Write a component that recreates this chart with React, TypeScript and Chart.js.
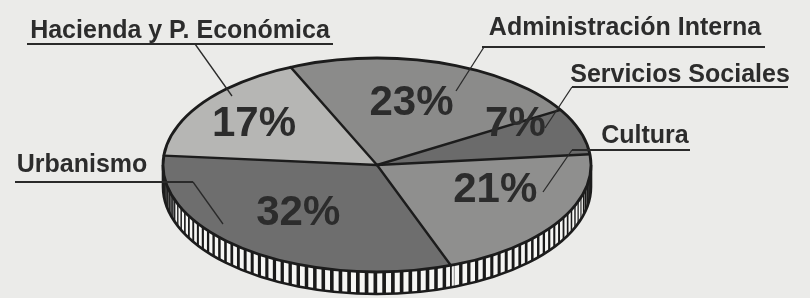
import React, { useEffect, useRef } from "react";
import { Chart, registerables } from "chart.js";

Chart.register(...registerables);

// ---- data ----
const categories = [
  "Hacienda y P. Económica",
  "Administración Interna",
  "Servicios Sociales",
  "Cultura",
  "Urbanismo",
];
const shares = [17, 23, 7, 21, 32];
const percentLabels = ["17%", "23%", "7%", "21%", "32%"];

// ---- styles / layout ----
const sliceColors = ["#b6b6b4", "#8b8b8a", "#6b6b6b", "#8f8f8e", "#6e6e6e"];
const BG = "#ebebe9";
const OUTLINE = "#1c1c1c";
const TEXT = "#2c2c2c";
const RIM_LIGHT = "#f6f6f4";
const RIM_DARK = "#1a1a1a";
const GEO = { cx: 377, cy: 165, rx: 214, ry: 107, depth: 22 };
// per-slice label placement: radius fraction and angle shift (deg)
const pctLayout = [
  { r: 0.69, shift: -2 },
  { r: 0.6, shift: -2 },
  { r: 0.75, shift: -12 },
  { r: 0.6, shift: -9 },
  { r: 0.58, shift: 2 },
];
// category callouts: text centre/baseline, underline span, leader end
const callouts = [
  { tx: 180, ty: 38, ux0: 27, ux1: 333, uy: 44, lx0: 195, lx1: 232, ly1: 96 },
  { tx: 625, ty: 35, ux0: 482, ux1: 765, uy: 47, lx0: 484, lx1: 456, ly1: 91 },
  { tx: 680, ty: 82, ux0: 572, ux1: 788, uy: 87, lx0: 572, lx1: 545, ly1: 128 },
  { tx: 645, ty: 143, ux0: 572, ux1: 690, uy: 150, lx0: 572, lx1: 543, ly1: 192 },
  { tx: 82, ty: 172, ux0: 15, ux1: 193, uy: 182, lx0: 193, lx1: 223, ly1: 224 },
];

const norm = (a: number) => {
  const t = Math.PI * 2;
  return ((a % t) + t) % t;
};

const tiltedPie = {
  id: "tiltedPie",
  beforeDatasetsDraw(chart: any) {
    const ctx: CanvasRenderingContext2D = chart.ctx;
    const arcs = chart.getDatasetMeta(0).data as any[];
    if (!arcs.length) return;
    const { cx, cy, rx, ry, depth } = GEO;
    // rim band
    ctx.save();
    ctx.beginPath();
    ctx.ellipse(cx, cy, rx, ry, 0, 0, Math.PI);
    ctx.lineTo(cx - rx, cy + depth);
    ctx.ellipse(cx, cy + depth, rx, ry, 0, Math.PI, 0, true);
    ctx.closePath();
    ctx.fillStyle = RIM_LIGHT;
    ctx.fill();
    ctx.clip();
    ctx.fillStyle = RIM_DARK;
    const step = 0.041;
    for (let t = step / 2; t < Math.PI; t += step) {
      const x = cx + rx * Math.cos(t);
      const w = Math.max(1.1, 0.42 * rx * Math.sin(t) * step);
      ctx.fillRect(x - w / 2, cy, w, ry + depth + 4);
    }
    // darker shading near the ends
    ctx.fillStyle = "rgba(20,20,20,0.6)";
    ctx.fillRect(cx - rx, cy, 12, ry + depth);
    ctx.fillRect(cx + rx - 8, cy, 8, ry + depth);
    arcs.forEach((a) => {
      const ang = norm(a.startAngle);
      if (ang > 0.05 && ang < Math.PI - 0.05) {
        const x = cx + rx * Math.cos(ang);
        ctx.fillStyle = RIM_LIGHT;
        ctx.fillRect(x - 3, cy, 6, ry + depth + 4);
        ctx.fillStyle = OUTLINE;
        ctx.fillRect(x - 0.9, cy, 1.8, ry + depth + 4);
      }
    });
    ctx.restore();
    // rim outline
    ctx.save();
    ctx.lineWidth = 2.6;
    ctx.strokeStyle = OUTLINE;
    ctx.beginPath();
    ctx.moveTo(cx + rx, cy);
    ctx.lineTo(cx + rx, cy + depth);
    ctx.ellipse(cx, cy + depth, rx, ry, 0, 0, Math.PI);
    ctx.lineTo(cx - rx, cy);
    ctx.stroke();
    ctx.restore();
    // squash the pie into the top ellipse
    const a0 = arcs[0];
    ctx.save();
    ctx.translate(cx, cy);
    ctx.scale(rx / a0.outerRadius, ry / a0.outerRadius);
    ctx.translate(-a0.x, -a0.y);
  },
  afterDatasetsDraw(chart: any) {
    const ctx: CanvasRenderingContext2D = chart.ctx;
    const arcs = chart.getDatasetMeta(0).data as any[];
    if (!arcs.length) return;
    ctx.restore();
    const { cx, cy, rx, ry } = GEO;
    // slice borders
    ctx.save();
    ctx.strokeStyle = OUTLINE;
    ctx.lineWidth = 2.4;
    ctx.lineCap = "round";
    arcs.forEach((a) => {
      ctx.beginPath();
      ctx.moveTo(cx, cy);
      ctx.lineTo(cx + rx * Math.cos(a.startAngle), cy + ry * Math.sin(a.startAngle));
      ctx.stroke();
    });
    ctx.lineWidth = 2.8;
    ctx.beginPath();
    ctx.ellipse(cx, cy, rx, ry, 0, 0, Math.PI * 2);
    ctx.stroke();
    // percentages
    ctx.fillStyle = TEXT;
    ctx.textAlign = "center";
    ctx.textBaseline = "middle";
    ctx.font = "bold 42px 'Liberation Sans', Arial, sans-serif";
    arcs.forEach((a, i) => {
      const lay = pctLayout[i];
      const mid = (a.startAngle + a.endAngle) / 2 + (lay.shift * Math.PI) / 180;
      const x = cx + rx * lay.r * Math.cos(mid);
      const y = cy + ry * lay.r * Math.sin(mid);
      ctx.fillText(percentLabels[i], x, y);
    });
    ctx.restore();
  },
  afterDraw(chart: any) {
    const ctx: CanvasRenderingContext2D = chart.ctx;
    ctx.save();
    ctx.fillStyle = TEXT;
    ctx.strokeStyle = "#2a2a2a";
    ctx.lineWidth = 2;
    ctx.textAlign = "center";
    ctx.textBaseline = "alphabetic";
    ctx.font = "bold 25px 'Liberation Sans', Arial, sans-serif";
    callouts.forEach((c, i) => {
      ctx.fillText(categories[i], c.tx, c.ty);
      ctx.beginPath();
      ctx.moveTo(c.ux0, c.uy);
      ctx.lineTo(c.ux1, c.uy);
      ctx.stroke();
      ctx.save();
      ctx.lineWidth = 1.3;
      ctx.beginPath();
      ctx.moveTo(c.lx0, c.uy);
      ctx.lineTo(c.lx1, c.ly1);
      ctx.stroke();
      ctx.restore();
    });
    ctx.restore();
  },
};

export default function App() {
  const ref = useRef<HTMLCanvasElement>(null);
  useEffect(() => {
    document.body.style.margin = "0";
    document.body.style.background = BG;
    if (!ref.current) return;
    const chart = new Chart(ref.current, {
      type: "pie",
      data: {
        labels: categories,
        datasets: [
          {
            data: shares,
            backgroundColor: sliceColors,
            borderWidth: 0,
            clip: false,
          } as any,
        ],
      },
      options: {
        responsive: false,
        maintainAspectRatio: false,
        devicePixelRatio: 1,
        animation: false,
        rotation: 275,
        events: [],
        plugins: {
          legend: { display: false },
          tooltip: { enabled: false },
        },
      },
      plugins: [tiltedPie],
    });
    return () => chart.destroy();
  }, []);
  return (
    <div style={{ position: "fixed", left: 0, top: 0, width: 810, height: 298, background: BG }}>
      <canvas ref={ref} width={810} height={298} style={{ display: "block" }} />
    </div>
  );
}
